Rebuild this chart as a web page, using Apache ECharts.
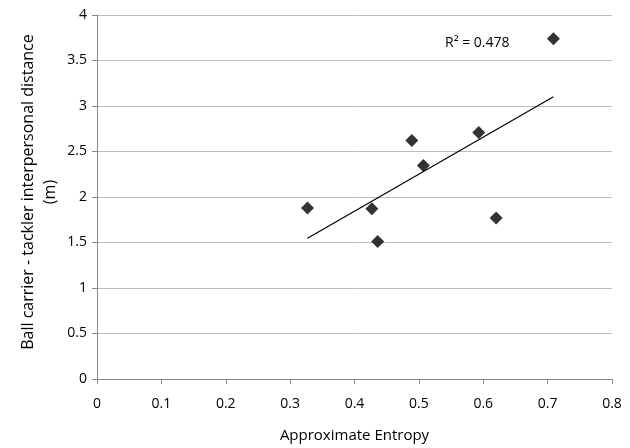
<!DOCTYPE html>
<html><head><meta charset="utf-8">
<script src="https://cdn.jsdelivr.net/npm/echarts@6/dist/echarts.min.js"></script>
<style>html,body{margin:0;padding:0;background:#fff}#c{width:630px;height:448px}</style>
</head><body><div id="c"></div>
<script>
const entropy = [0.327, 0.427, 0.436, 0.489, 0.507, 0.593, 0.620, 0.709];
const distance = [1.88, 1.87, 1.51, 2.62, 2.345, 2.71, 1.77, 3.74];
const xTicks = [0, 0.1, 0.2, 0.3, 0.4, 0.5, 0.6, 0.7, 0.8];
const yTicks = [0, 0.5, 1, 1.5, 2, 2.5, 3, 3.5, 4];
const r2Label = 'R² = 0.478';
const yTitle = 'Ball carrier - tackler interpersonal distance\n(m)';
const xTitle = 'Approximate Entropy';

const n = entropy.length;
const mx = entropy.reduce((a, b) => a + b, 0) / n;
const my = distance.reduce((a, b) => a + b, 0) / n;
let sxy = 0, sxx = 0;
for (let i = 0; i < n; i++) { sxy += (entropy[i] - mx) * (distance[i] - my); sxx += (entropy[i] - mx) ** 2; }
const slope = sxy / sxx, icpt = my - slope * mx;
const xmin = Math.min(...entropy), xmax = Math.max(...entropy);
const trend = [[xmin, icpt + slope * xmin], [xmax, icpt + slope * xmax]];

const font = "'Open Sans', 'Noto Sans', sans-serif";
const chart = echarts.init(document.getElementById('c'));
chart.setOption({
  animation: false,
  grid: { left: 97, right: 18, top: 15, bottom: 65, containLabel: false },
  xAxis: {
    type: 'value', min: 0, max: 0.8, interval: 0.1,
    name: xTitle, nameLocation: 'middle', nameGap: 49,
    nameTextStyle: { fontFamily: font, fontSize: 15, color: '#000' },
    axisLine: { show: true, lineStyle: { color: '#888', width: 1 } },
    axisTick: { show: true, length: 5, lineStyle: { color: '#888' } },
    axisLabel: { fontFamily: font, fontSize: 14, color: '#000', margin: 18,
      formatter: v => xTicks.includes(+v.toFixed(1)) ? String(+v.toFixed(1)) : '' },
    splitLine: { show: false }
  },
  yAxis: {
    type: 'value', min: 0, max: 4, interval: 0.5,
    axisLine: { show: true, lineStyle: { color: '#888', width: 1 } },
    axisTick: { show: true, length: 5, lineStyle: { color: '#888' } },
    axisLabel: { fontFamily: font, fontSize: 14, color: '#000', margin: 10,
      formatter: v => yTicks.includes(+v) ? String(+v) : '' },
    splitLine: { show: true, lineStyle: { color: '#bdbdbd', width: 1 } }
  },
  series: [
    {
      type: 'line', data: trend, symbol: 'none', silent: true,
      lineStyle: { color: '#000', width: 1.2 }, z: 2
    },
    {
      type: 'scatter', data: entropy.map((x, i) => [x, distance[i]]),
      symbol: 'diamond', symbolSize: 13, itemStyle: { color: '#000' }, z: 3
    }
  ],
  graphic: [
    {
      type: 'text', left: 445, top: 36,
      style: { text: r2Label, fontFamily: font, fontSize: 14, fill: '#000' }
    },
    {
      type: 'text', x: 39, y: 192, rotation: Math.PI / 2,
      style: { text: yTitle, fontFamily: font, fontSize: 16, lineHeight: 22, fill: '#000',
        align: 'center', verticalAlign: 'middle' }
    }
  ]
});
</script></body></html>
